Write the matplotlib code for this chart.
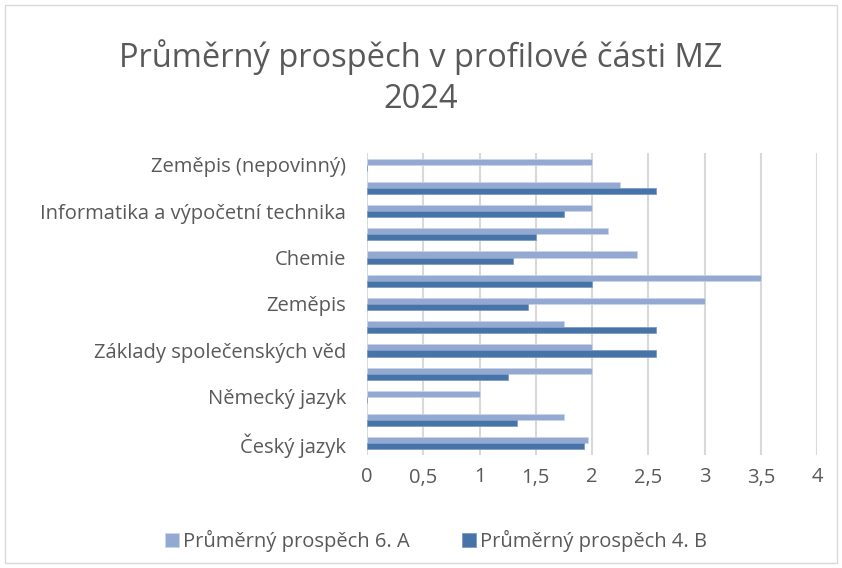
import numpy as np
import matplotlib.pyplot as plt
from matplotlib.patches import Rectangle

# categories from bottom to top (only every second one is labelled in the original)
categories = ["Český jazyk", "Anglický jazyk", "Německý jazyk", "Matematika",
              "Základy společenských věd", "Dějepis", "Zeměpis", "Fyzika",
              "Chemie", "Biologie", "Informatika a výpočetní technika",
              "Anglický jazyk (nepovinný)", "Zeměpis (nepovinný)"]
prumer_6a = [1.96, 1.75, 1.0, 2.0, 2.0, 1.75, 3.0, 3.5, 2.4, 2.14, 2.0, 2.25, 2.0]
prumer_4b = [1.93, 1.33, 0, 1.25, 2.57, 2.57, 1.43, 2.0, 1.3, 1.5, 1.75, 2.57, 0]
xticks = [0, 0.5, 1, 1.5, 2, 2.5, 3, 3.5, 4]
xlabels = ["0", "0,5", "1", "1,5", "2", "2,5", "3", "3,5", "4"]

plt.rcParams['font.family'] = ['Open Sans', 'DejaVu Sans']
light = '#94A9D1'
dark = '#4673A8'
txt = '#595959'

fig = plt.figure(figsize=(8.42, 5.68), dpi=100)
ax = fig.add_axes([367/842, 1 - 455/568, 450/842, 302/568])

y = np.arange(len(categories))
h = 0.26
ax.barh(y + h/2, prumer_6a, height=h, color=light, edgecolor='#C9D4EA', linewidth=0.6,
        label="Průměrný prospěch 6. A", zorder=3)
ax.barh(y - h/2, prumer_4b, height=h, color=dark, edgecolor='#7F9CC4', linewidth=0.6,
        label="Průměrný prospěch 4. B", zorder=3)

ax.set_xlim(0, 4)
ax.set_ylim(-0.5, len(categories) - 0.5)
ax.set_xticks(xticks)
ax.set_xticklabels(xlabels)
ax.set_yticks(y[::2])
ax.set_yticklabels(categories[::2])
ax.tick_params(axis='both', length=0, labelsize=14.5, colors=txt)
ax.tick_params(axis='x', pad=9)
ax.tick_params(axis='y', pad=15)
ax.xaxis.grid(True, color='#D9D9D9', linewidth=1.5, zorder=0)
for s in ax.spines.values():
    s.set_visible(False)

fig.text(0.5, 1 - 57/568, "Průměrný prospěch v profilové části MZ", ha='center', va='center',
         fontsize=23.5, color=txt)
fig.text(0.5, 1 - 100/568, "2024", ha='center', va='center', fontsize=23.5, color=txt)

fig.legend(loc='center', bbox_to_anchor=(0.518, 1 - 541/568), ncol=2, frameon=False,
           fontsize=14.5, labelcolor=txt, handlelength=0.7, handleheight=0.7,
           handletextpad=0.2, columnspacing=2.6)

fig.patches.append(Rectangle((5/842, 5/568), 832/842, 558/568, transform=fig.transFigure,
                             fill=False, edgecolor='#D9D9D9', linewidth=1))

fig.savefig('out.png', dpi=100)
